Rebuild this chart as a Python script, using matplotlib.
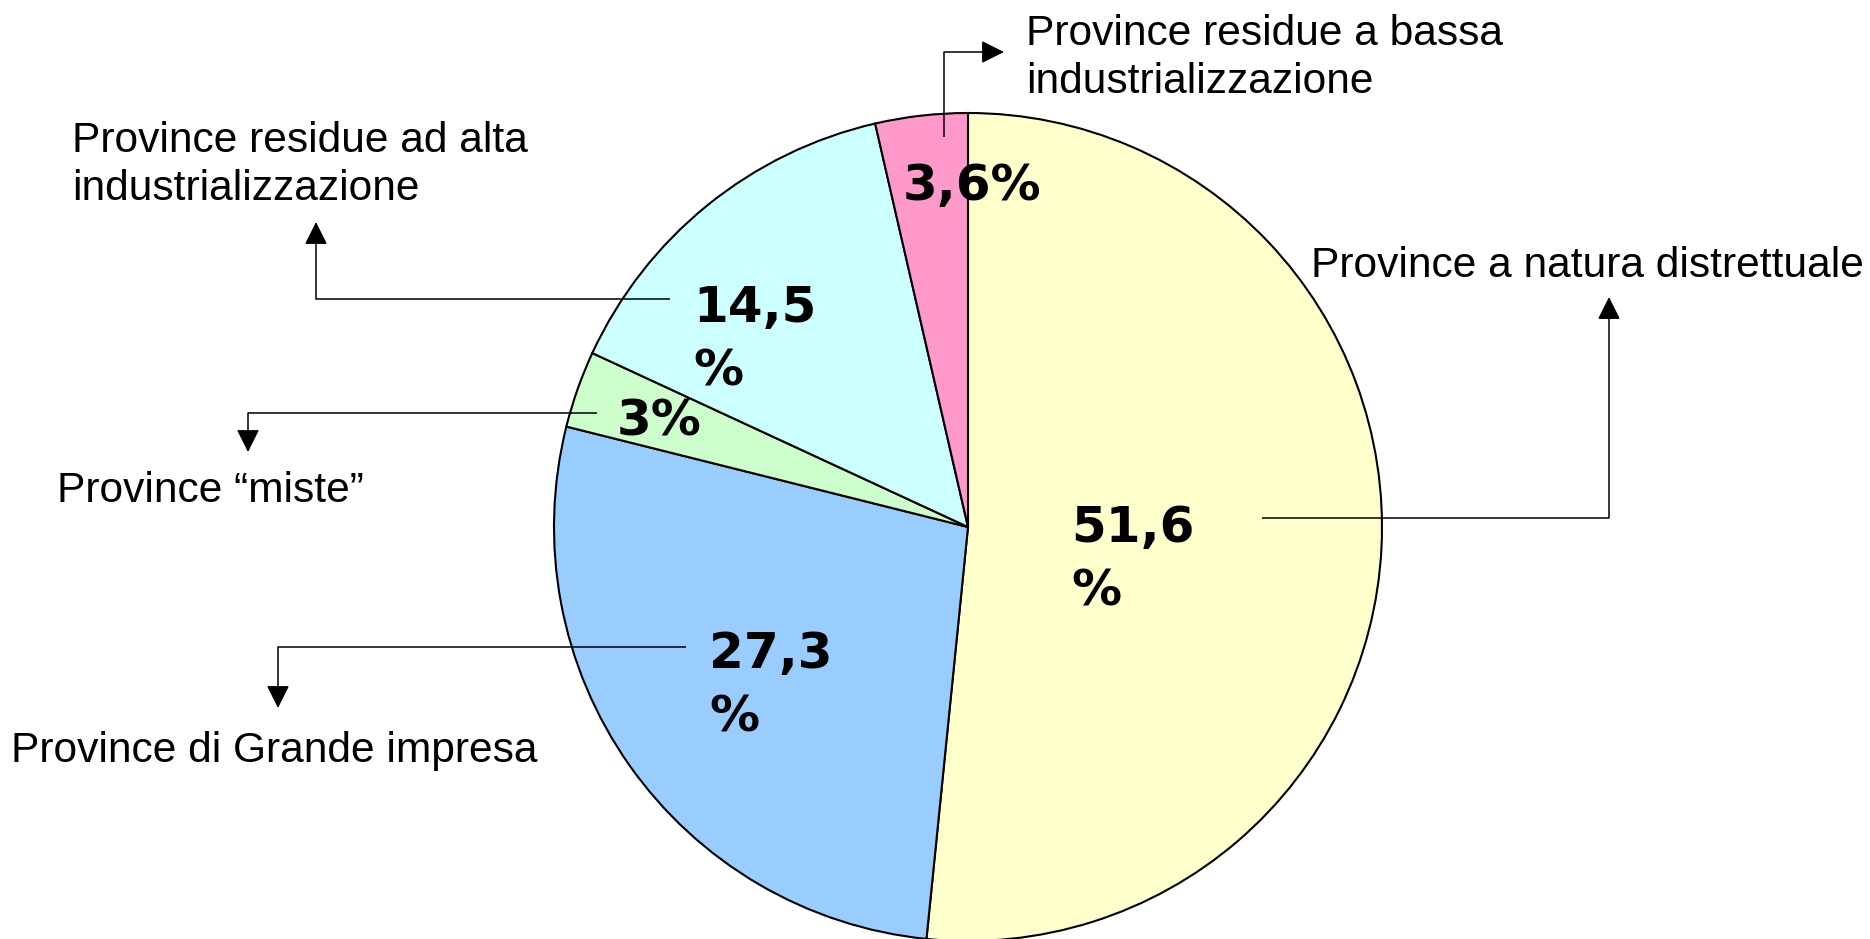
import matplotlib
matplotlib.use("Agg")
import matplotlib.pyplot as plt

# ---- data ----
categories = [
    "Province a natura distrettuale",
    "Province di Grande impresa",
    "Province \u201cmiste\u201d",
    "Province residue ad alta\nindustrializzazione",
    "Province residue a bassa\nindustrializzazione",
]
shares = [51.6, 27.3, 3.0, 14.5, 3.6]
value_labels = ["51,6\n%", "27,3\n%", "3%", "14,5\n%", "3,6%"]
colors = ["#FFFFCC", "#99CCFF", "#CCFFCC", "#CCFFFF", "#FF99CC"]

# ---- layout (pixel coordinates, y measured from top) ----
W, H = 1870, 939
center = (968, 527)
radius = 414

# value label positions: (left x, baseline y of first line)
val_pos = [(1071, 542), (709, 668), (617, 435), (693, 322), (903, 200)]
val_pitch = 63

# category label positions: (left x, baseline of first line)
cat_pos = [(1311, 277), (11, 762), (57, 502), (72, 152), (1026, 45)]
cat_pitch = 48

# connector paths: start, corner, tip
connectors = [
    [(1262, 518), (1609, 518), (1609, 297)],
    [(686, 647), (278, 647), (278, 708)],
    [(597, 413), (248, 413), (248, 452)],
    [(670, 299), (316, 299), (316, 222)],
    [(944, 137), (944, 52), (1004, 52)],
]

def Y(y):
    return H - y

fig = plt.figure(figsize=(W / 100, H / 100), dpi=100)
ax = fig.add_axes([0, 0, 1, 1])

ax.pie(shares, colors=colors, startangle=90, counterclock=False,
       center=(center[0], Y(center[1])), radius=radius,
       wedgeprops=dict(edgecolor="black", linewidth=1.5))
ax.set_xlim(0, W)
ax.set_ylim(0, H)
ax.set_aspect("auto")
ax.axis("off")

# value labels
for lab, (x, yb) in zip(value_labels, val_pos):
    for i, line in enumerate(lab.split("\n")):
        ax.text(x, Y(yb + i * val_pitch), line, ha="left", va="baseline",
                fontsize=36, fontweight="bold", family="DejaVu Sans",
                color="black", zorder=5)

# connectors
for (s, c, t) in connectors:
    ax.plot([s[0], c[0]], [Y(s[1]), Y(c[1])], color="black", lw=1.1,
            solid_capstyle="butt", zorder=4)
    ax.annotate("", xy=(t[0], Y(t[1])), xytext=(c[0], Y(c[1])),
                arrowprops=dict(arrowstyle="-|>,head_length=1.0,head_width=0.5",
                                mutation_scale=14, color="black", lw=1.1,
                                shrinkA=0, shrinkB=0), zorder=4)

# category labels
for lab, (x, yb) in zip(categories, cat_pos):
    for i, line in enumerate(lab.split("\n")):
        ax.text(x, Y(yb + i * cat_pitch), line, ha="left", va="baseline",
                fontsize=30.6, family="Liberation Sans", color="black")

fig.savefig("out.png", dpi=100, facecolor="white")
